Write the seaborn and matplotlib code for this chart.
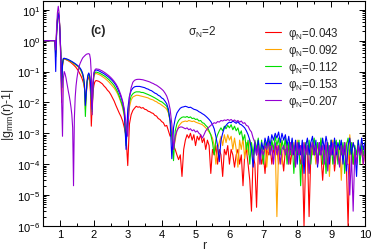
import numpy as np
import pandas as pd
import matplotlib
matplotlib.use("Agg")
import matplotlib.pyplot as plt
import seaborn as sns
from matplotlib.ticker import FixedLocator, MultipleLocator, NullFormatter

# ---------------- data ----------------
r_dense = np.round(np.arange(0.85, 2.1001, 0.025), 3)
r_sparse = np.round(np.arange(2.15, 10.0001, 0.05), 3)
r = np.concatenate([[0.5], r_dense, r_sparse])

labels = ["φ$_{\\rm N}$=0.043", "φ$_{\\rm N}$=0.092", "φ$_{\\rm N}$=0.112",
          "φ$_{\\rm N}$=0.153", "φ$_{\\rm N}$=0.207"]
colors = ["#FF0000", "#FFA500", "#00DD00", "#0000FF", "#9400D3"]
y_major = [1e-6, 1e-5, 1e-4, 1e-3, 1e-2, 1e-1, 1e0, 1e1]

red = [1, 1, 0.4, 1.7, 4.5, 7, 6, 2.2, 0.3, 0.01, 0.15, 0.25,
       0.255, 0.25, 0.244, 0.237, 0.23, 0.222, 0.213, 0.204,
       0.195, 0.185, 0.175, 0.165, 0.155, 0.145, 0.135, 0.124,
       0.113, 0.102, 0.09, 0.08, 0.07, 0.06, 0.05, 0.04,
       0.028, 0.01, 0.02, 0.042, 0.06, 0.068, 0.05, 0.022,
       0.0017, 0.008, 0.022, 0.035, 0.045, 0.05, 0.051, 0.05,
       0.048, 0.044, 0.04, 0.034, 0.03, 0.025, 0.022, 0.018, 0.014, 0.011,
       0.008, 0.006, 0.0045, 0.0035, 0.0025, 0.0015, 0.0008, 0.00009, 0.002, 0.004,
       0.0055, 0.0065, 0.0075, 0.007, 0.0072, 0.0065, 0.0068, 0.006, 0.0058, 0.0052,
       0.005, 0.0046, 0.0044, 0.0038, 0.0036, 0.003, 0.0028, 0.0024, 0.0022, 0.0017,
       0.0018, 0.0012, 0.0008, 0.001, 0.0004, 0.0003, 0.0002, 0.00014, 0.0002, 0.00004,
       0.0003, 0.0006, 0.0009, 0.0007, 0.001, 0.0006, 0.0009, 0.0004, 0.0008, 0.0006,
       0.0009, 0.0005, 0.0007, 0.0003, 0.0006, 0.0004, 0.00005, 0.0003, 0.0002, 0.0004,
       0.0001, 0.0003, 0.0002, 0.00004, 0.0003, 0.0002, 0.0004, 0.0001, 0.0003, 0.0002,
       0.00008, 0.0002, 0.0003, 0.0001, 0.0002, 0.00002, 0.0002, 0.0003, 0.0001, 0.00003,
       0.000003, 0.0002, 0.0001, 0.000004, 0.0002, 0.0003, 0.0001, 0.0002, 0.00005, 0.0003,
       0.0002, 0.0004, 0.0001, 0.0003, 0.0002, 0.0004, 0.0001, 0.0003, 0.0002, 0.00006,
       0.0003, 0.0002, 0.0004, 0.0001, 0.0003, 0.0002, 0.0004, 0.0002, 0.0003, 0.0001,
       0.0002, 0.000001, 0.0002, 0.0003, 0.000002, 0.0002, 0.0004, 0.0002, 0.0003, 0.0001,
       0.0003, 0.0002, 0.00003, 0.0002, 0.0004, 0.0001, 0.0003, 0.0002, 0.0004, 0.00006,
       0.0002, 0.0003, 0.0001, 0.0003, 0.0002, 0.0004, 0.0001, 0.000001, 0.0002, 0.0003,
       0.0001, 0.0003, 0.0002, 0.0004, 0.0002, 0.0003, 0.0001, 0.0003]

orange = [1, 1, 0.35, 1.8, 5, 8, 6, 2, 0.4, 0.03, 0.16, 0.255,
          0.26, 0.255, 0.25, 0.245, 0.238, 0.231, 0.224, 0.216,
          0.208, 0.2, 0.192, 0.184, 0.176, 0.168, 0.16, 0.152,
          0.144, 0.136, 0.126, 0.115, 0.102, 0.088, 0.072, 0.053,
          0.028, 0.006, 0.016, 0.042, 0.068, 0.08, 0.066, 0.037,
          0.011, 0.004, 0.03, 0.068, 0.081, 0.086, 0.086, 0.084,
          0.08, 0.075, 0.069, 0.063, 0.057, 0.051, 0.045, 0.039, 0.034, 0.029,
          0.024, 0.019, 0.014, 0.01, 0.0065, 0.0035, 0.0006, 0.002, 0.007, 0.012,
          0.015, 0.016, 0.017, 0.017, 0.0165, 0.016, 0.0155, 0.015, 0.0145, 0.014,
          0.013, 0.0125, 0.012, 0.011, 0.0105, 0.0095, 0.009, 0.0082, 0.0075, 0.0068,
          0.006, 0.0045, 0.0025, 0.0009, 0.0003, 0.0006, 0.0012, 0.0017, 0.002, 0.0023,
          0.0024, 0.0025, 0.0024, 0.0026, 0.0025, 0.0024, 0.0025, 0.0023, 0.0022, 0.0021,
          0.002, 0.0019, 0.0017, 0.0015, 0.0013, 0.0011, 0.0009, 0.0007, 0.0004, 0.0001,
          0.0003, 0.0005, 0.0008, 0.0004, 0.0009, 0.0005, 0.0009, 0.0006, 0.0008, 0.0003,
          0.0007, 0.0003, 0.00008, 0.0006, 0.0003, 0.0007, 0.00015, 0.0005, 0.0002, 0.0006,
          0.0004, 0.0001, 0.0005, 0.0002, 0.0006, 0.0001, 0.0004, 0.0002, 0.0005, 0.00008,
          0.0004, 0.0002, 0.0005, 0.0003, 0.0004, 0.000002, 0.0003, 0.0005, 0.0001, 0.0004,
          0.0002, 0.0005, 0.0001, 0.0004, 0.0002, 0.0005, 0.0001, 0.0006, 0.0002, 0.0004,
          0.0001, 0.0005, 0.0002, 0.0004, 0.00005, 0.0005, 0.0002, 0.0004, 0.0001, 0.0005,
          0.0002, 0.0006, 0.0001, 0.0004, 0.0002, 0.0005, 0.00004, 0.0004, 0.0006, 0.0001,
          0.0004, 0.0002, 0.0005, 0.00003, 0.0004, 0.0002, 0.0005, 0.0001, 0.0009, 0.0002,
          0.0005, 0.0003, 0.0001, 0.0004, 0.0002, 0.0005, 0.0001, 0.0004]

green = [1, 1, 0.3, 1.8, 5, 8, 6, 2, 0.4, 0.03, 0.17, 0.26,
         0.265, 0.26, 0.255, 0.25, 0.244, 0.237, 0.23, 0.222,
         0.214, 0.206, 0.198, 0.19, 0.182, 0.174, 0.166, 0.158,
         0.15, 0.142, 0.132, 0.12, 0.107, 0.093, 0.076, 0.056,
         0.03, 0.0035, 0.018, 0.045, 0.072, 0.085, 0.07, 0.04,
         0.012, 0.005, 0.035, 0.075, 0.09, 0.096, 0.096, 0.094,
         0.09, 0.085, 0.079, 0.073, 0.067, 0.06, 0.054, 0.047, 0.041, 0.035,
         0.028, 0.022, 0.016, 0.011, 0.0075, 0.004, 0.0004, 0.003, 0.01, 0.016,
         0.019, 0.021, 0.022, 0.022, 0.022, 0.021, 0.021, 0.02, 0.019, 0.018,
         0.017, 0.016, 0.015, 0.014, 0.013, 0.012, 0.011, 0.0105, 0.0095, 0.0085,
         0.0075, 0.005, 0.0025, 0.0008, 0.00013, 0.0012, 0.002, 0.0026, 0.003, 0.0033,
         0.0034, 0.0033, 0.0035, 0.0032, 0.0034, 0.003, 0.0031, 0.0028, 0.0029, 0.0025,
         0.0026, 0.0022, 0.0021, 0.0018, 0.0016, 0.0012, 0.0009, 0.0005, 0.0002, 0.0006,
         0.0009, 0.0012, 0.0015, 0.0012, 0.0017, 0.0014, 0.0018, 0.0015, 0.0019, 0.0013,
         0.0017, 0.0012, 0.0015, 0.0009, 0.0012, 0.0006, 0.0009, 0.0003, 0.0006, 0.0001,
         0.0005, 0.0002, 0.0006, 0.0003, 0.0007, 0.0002, 0.0006, 0.0001, 0.0005, 0.0003,
         0.0007, 0.0002, 0.0006, 0.0003, 0.0008, 0.0004, 0.0007, 0.0002, 0.0006, 0.0003,
         0.0007, 0.0001, 0.0005, 0.0002, 0.0006, 0.00005, 0.0004, 0.0002, 0.0006, 0.00002,
         0.0004, 0.0001, 0.0005, 0.0002, 0.0006, 0.0001, 0.0004, 0.0007, 0.0002, 0.0005,
         0.0002, 0.0007, 0.0001, 0.0004, 0.00005, 0.0005, 0.0002, 0.0006, 0.0001, 0.0004,
         0.0006, 0.0001, 0.0006, 0.0002, 0.0005, 0.00005, 0.0004, 0.0007, 0.0002, 0.0005,
         0.0001, 0.0004, 0.0002, 0.0006, 0.0001, 0.0004, 0.0002, 0.0005]

blue = [1, 1, 0.1, 1.5, 4.5, 7.5, 6, 2, 0.4, 0.03, 0.18, 0.265,
        0.27, 0.265, 0.26, 0.255, 0.25, 0.243, 0.236, 0.228,
        0.22, 0.212, 0.204, 0.196, 0.188, 0.18, 0.172, 0.164,
        0.156, 0.148, 0.138, 0.127, 0.115, 0.1, 0.083, 0.062,
        0.035, 0.008, 0.02, 0.05, 0.078, 0.09, 0.075, 0.045,
        0.014, 0.006, 0.04, 0.085, 0.104, 0.112, 0.112, 0.11,
        0.105, 0.098, 0.092, 0.085, 0.078, 0.071, 0.064, 0.057, 0.05, 0.043,
        0.036, 0.028, 0.021, 0.015, 0.01, 0.005, 0.0003, 0.006, 0.016, 0.024,
        0.029, 0.032, 0.033, 0.033, 0.033, 0.032, 0.031, 0.03, 0.028, 0.027,
        0.025, 0.024, 0.022, 0.02, 0.019, 0.017, 0.016, 0.014, 0.013, 0.011,
        0.009, 0.006, 0.0025, 0.00015, 0.0015, 0.003, 0.0045, 0.0055, 0.0065, 0.007,
        0.0072, 0.0075, 0.0072, 0.0068, 0.007, 0.0065, 0.006, 0.0058, 0.0055, 0.005,
        0.0047, 0.0043, 0.004, 0.0036, 0.0032, 0.0028, 0.0024, 0.0019, 0.0014, 0.0008,
        0.0004, 0.00012, 0.0006, 0.001, 0.0015, 0.0018, 0.0021, 0.0023, 0.0022, 0.0025,
        0.0023, 0.0021, 0.0024, 0.002, 0.0019, 0.0017, 0.0015, 0.0012, 0.0009, 0.0006,
        0.0003, 0.00008, 0.0005, 0.0002, 0.0006, 0.00015, 0.0005, 0.0003, 0.0007, 0.0004,
        0.0008, 0.0004, 0.0009, 0.0006, 0.001, 0.0007, 0.0011, 0.0005, 0.001, 0.0006,
        0.0009, 0.0004, 0.0008, 0.0003, 0.0007, 0.0002, 0.0006, 0.0001, 0.0005, 0.0002,
        0.0006, 0.00005, 0.0004, 0.0007, 0.0002, 0.0005, 0.0008, 0.0002, 0.0006, 0.00008,
        0.0005, 0.0002, 0.0007, 0.0003, 0.0008, 0.0004, 0.0001, 0.0006, 0.0002, 0.0007,
        0.0002, 0.0005, 0.0003, 0.0006, 0.0001, 0.0005, 0.00006, 0.0004, 0.0007, 0.0002,
        0.0005, 0.0003, 0.00004, 0.0006, 0.0002, 0.0007, 0.0003, 0.0005]

purple = [1, 1, 0.5, 2.5, 8, 13, 8, 2, 0.2, 0.01, 0.0008, 0.06,
          0.1, 0.085, 0.065, 0.045, 0.032, 0.022, 0.016, 0.011,
          0.007, 0.004, 0.0015, 0.00002, 0.003, 0.015, 0.035, 0.06,
          0.09, 0.12, 0.16, 0.19, 0.22, 0.25, 0.28, 0.3,
          0.32, 0.34, 0.36, 0.37, 0.375, 0.38, 0.36, 0.25,
          0.08, 0.004, 0.04, 0.09, 0.11, 0.12, 0.122, 0.12,
          0.118, 0.111, 0.104, 0.096, 0.088, 0.08, 0.072, 0.064, 0.056, 0.048,
          0.04, 0.032, 0.024, 0.017, 0.011, 0.006, 0.002, 0.0008, 0.015, 0.03,
          0.045, 0.052, 0.055, 0.056, 0.056, 0.055, 0.054, 0.052, 0.05, 0.048,
          0.046, 0.043, 0.041, 0.038, 0.036, 0.033, 0.03, 0.027, 0.024, 0.02,
          0.016, 0.011, 0.006, 0.002, 0.0003, 0.0008, 0.0012, 0.0015, 0.0016, 0.0016,
          0.0015, 0.0014, 0.0015, 0.0013, 0.0014, 0.0012, 0.0013, 0.0011, 0.0012, 0.001,
          0.0009, 0.0007, 0.0009, 0.0012, 0.0014, 0.0016, 0.0018, 0.002, 0.0022, 0.0021,
          0.0024, 0.0023, 0.0026, 0.0025, 0.0027, 0.0026, 0.0028, 0.0026, 0.0028, 0.0025,
          0.0027, 0.0024, 0.0026, 0.0023, 0.0025, 0.0021, 0.0022, 0.0018, 0.0017, 0.0013,
          0.0011, 0.0007, 0.0005, 0.0002, 0.0004, 0.0001, 0.0003, 0.0002, 0.0004, 0.0003,
          0.0005, 0.0002, 0.0004, 0.0001, 0.0005, 0.0002, 0.0004, 0.0001, 0.0003, 0.0004,
          0.0002, 0.0004, 0.0001, 0.0005, 0.0002, 0.0004, 0.00008, 0.0005, 0.0002, 0.0004,
          0.0001, 0.0005, 0.0002, 0.0004, 0.00005, 0.0003, 0.0005, 0.0002, 0.0004, 0.0001,
          0.0005, 0.0002, 0.0004, 0.0001, 0.0005, 0.00006, 0.0004, 0.0002, 0.0005, 0.0001,
          0.0004, 0.0002, 0.00008, 0.0004, 0.0002, 0.0005, 0.0001, 0.0001, 0.00001, 0.0002,
          0.000003, 0.0003, 0.0001, 0.0004, 0.0002, 0.0003, 0.0001, 0.0004]

series = [red, orange, green, blue, purple]
for s in series:
    assert len(s) == len(r), (len(s), len(r))

df = pd.DataFrame({
    "r": np.tile(r, len(series)),
    "val": np.concatenate([np.asarray(s, float) for s in series]),
    "phi": np.repeat(labels, len(r)),
})

# ---------------- style ----------------
sns.set_theme(style="ticks")
plt.rcParams["font.family"] = ["Liberation Sans", "DejaVu Sans"]
plt.rcParams["mathtext.fontset"] = "custom"
plt.rcParams["mathtext.rm"] = "Liberation Sans"
plt.rcParams["mathtext.it"] = "Liberation Sans:italic"
plt.rcParams["mathtext.bf"] = "Liberation Sans:bold"

fig = plt.figure(figsize=(3.74, 2.51), dpi=100)
ax = fig.add_axes([0.115, 0.096, 0.861, 0.898])

sns.lineplot(data=df, x="r", y="val", hue="phi", hue_order=labels,
             palette=dict(zip(labels, colors)), estimator=None, sort=False,
             linewidth=0.8, ax=ax, legend=True)

ax.set_yscale("log")
ax.set_xlim(0.5, 10)
ax.set_ylim(1e-6, 20)

ax.xaxis.set_major_locator(MultipleLocator(1))
ax.xaxis.set_minor_locator(MultipleLocator(0.5))
ax.yaxis.set_major_locator(FixedLocator(y_major))
minor = [m * d for d in y_major for m in range(2, 10) if m * d < 20]
ax.yaxis.set_minor_locator(FixedLocator(minor))
ax.yaxis.set_minor_formatter(NullFormatter())

ax.tick_params(which="both", direction="in", top=True, right=True,
               labelsize=8, width=0.7, colors="black", pad=2)
ax.tick_params(which="major", length=4)
ax.tick_params(which="minor", length=2)
for sp in ax.spines.values():
    sp.set_linewidth(0.8)
    sp.set_color("black")

ax.set_xlabel("r", fontsize=9, labelpad=0)
ax.set_ylabel("|g$_{\\rm mm}$(r)-1|", fontsize=9, labelpad=1)

handles, labs = ax.get_legend_handles_labels()
ax.legend(handles, labs, loc="upper left", bbox_to_anchor=(0.69, 0.89),
          frameon=False, fontsize=8.3, handlelength=1.4, handletextpad=0.6,
          labelspacing=0.08, borderaxespad=0, borderpad=0)

ax.text(0.171, 0.867, "(c)", transform=ax.transAxes, fontsize=9,
        fontweight="bold", ha="center", va="center")
ax.text(0.45, 0.863, "σ$_{\\rm N}$=2", transform=ax.transAxes, fontsize=8.5,
        ha="left", va="center")

fig.savefig("out.png", dpi=100)
